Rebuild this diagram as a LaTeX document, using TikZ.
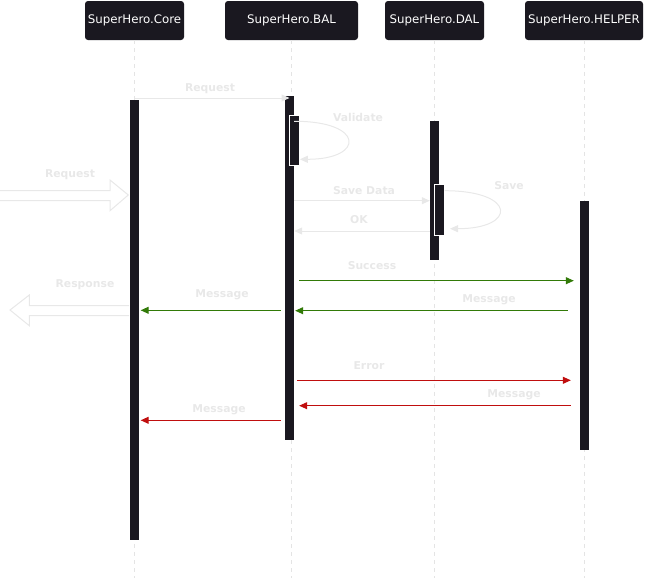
\documentclass[tikz,border=0pt]{standalone}
\usepackage{fontspec}
\setmainfont{DejaVu Sans}
\usetikzlibrary{arrows.meta}

\definecolor{bardark}{RGB}{26,24,32}
\definecolor{faint}{RGB}{232,232,232}
\definecolor{lifegray}{RGB}{228,228,228}
\definecolor{okgreen}{RGB}{50,122,8}
\definecolor{errred}{RGB}{192,14,14}

\tikzset{
  header/.style={fill=bardark, rounded corners=3pt, text=white,
    font=\fontsize{11.8}{14}\selectfont, minimum height=39pt, inner sep=0pt},
  lifeline/.style={draw=lifegray, dash pattern=on 4pt off 4pt, line width=0.6pt},
  actbar/.style={fill=bardark, minimum width=9pt, inner sep=0pt},
  subbar/.style={fill=bardark, draw=white, line width=1pt, minimum width=10pt, inner sep=0pt},
  msglabel/.style={text=faint, font=\bfseries\fontsize{10.8}{13}\selectfont},
  msg/.style={-{Triangle[length=8pt,width=7pt]}, line width=1pt},
  blockarrow/.style={draw=faint, fill=white, line width=1pt, line join=miter}
}

\begin{document}
\begin{tikzpicture}[x=1pt,y=-1pt]
\useasboundingbox (0,0) rectangle (645,581);

% participants
\node[header, minimum width=99pt] (corehead) at (134.5,20.5) {SuperHero.Core};
\node[header, minimum width=133pt] (balhead) at (291.5,20.5) {SuperHero.BAL};
\node[header, minimum width=99pt] (dalhead) at (434.5,20.5) {SuperHero.DAL};
\node[header, minimum width=118pt] (helperhead) at (584,20.5) {SuperHero.HELPER};

% lifelines
\draw[lifeline] (corehead.south) -- (corehead.south |- 0,578);
\draw[lifeline] (balhead.south) -- (balhead.south |- 0,578);
\draw[lifeline] (dalhead.south) -- (dalhead.south |- 0,578);
\draw[lifeline] (helperhead.south) -- (helperhead.south |- 0,578);

% activations
\node[actbar, minimum height=440pt] (corebar) at (134.5,320) {};
\node[actbar, minimum height=344pt] (balbar) at (289.5,268) {};
\node[subbar, minimum height=49.6pt] (balsub) at (294.3,140.5) {};
\node[actbar, minimum height=139pt] (dalbar) at (434.5,190.5) {};
\node[subbar, minimum height=50.7pt] (dalsub) at (439,210.3) {};
\node[actbar, minimum height=249pt] (helperbar) at (584.5,325.5) {};

% incoming request / outgoing response
\draw[blockarrow] (0,190.7) -- (110,190.7) -- (110,180) -- (128.3,195)
  -- (110,210.7) -- (110,200.7) -- (0,200.7);
\node[msglabel] (reqin) at (70,175) {Request};
\draw[blockarrow] (129,305.7) -- (29.3,305.7) -- (29.3,295) -- (10,310)
  -- (29.3,325.7) -- (29.3,315.7) -- (129,315.7);
\node[msglabel] (respout) at (85,285) {Response};

% core -> bal
\draw[msg, draw=faint] (corehead.south |- 0,98) -- (balbar.center |- 0,98);
\node[msglabel] at (210,89) {Request};

% validate
\draw[msg, draw=faint] (balbar.east |- 0,121.3) .. controls (365,121) and (365,159.3) .. (balsub.east |- 0,159.3);
\node[msglabel] at (358,117) {Validate};

% save data / ok
\draw[msg, draw=faint] (balbar.east |- 0,200.7) -- (dalbar.west |- 0,200.7);
\node[msglabel] at (364,191) {Save Data};
\draw[msg, draw=faint] (dalsub.east |- 0,190.7) .. controls (517,190.7) and (517,228.7) .. (450,228.7);
\node[msglabel] at (509,186) {Save};
\draw[msg, draw=faint] (dalbar.west |- 0,231) -- (balbar.east |- 0,231);
\node[msglabel] at (359,220) {OK};

% success path
\draw[msg, draw=okgreen, shorten <=5pt, shorten >=6pt] (balbar.east |- 0,280.7) -- (helperbar.west |- 0,280.7);
\node[msglabel] at (372,266) {Success};
\draw[msg, draw=okgreen, shorten <=12pt, shorten >=1pt] (helperbar.west |- 0,310.7) -- (balbar.east |- 0,310.7);
\node[msglabel] at (489,300) {Message};
\draw[msg, draw=okgreen, shorten <=4pt, shorten >=1.5pt] (balbar.west |- 0,310.3) -- (corebar.east |- 0,310.3);
\node[msglabel] at (222,295) {Message};

% error path
\draw[msg, draw=errred, shorten <=3pt, shorten >=9pt] (balbar.east |- 0,380.3) -- (helperbar.west |- 0,380.3);
\node[msglabel] at (369,366) {Error};
\draw[msg, draw=errred, shorten <=9pt, shorten >=5pt] (helperbar.west |- 0,405.7) -- (balbar.east |- 0,405.7);
\node[msglabel] at (514,395) {Message};
\draw[msg, draw=errred, shorten <=4pt, shorten >=1.5pt] (balbar.west |- 0,420.3) -- (corebar.east |- 0,420.3);
\node[msglabel] at (219,410) {Message};
\end{tikzpicture}
\end{document}
